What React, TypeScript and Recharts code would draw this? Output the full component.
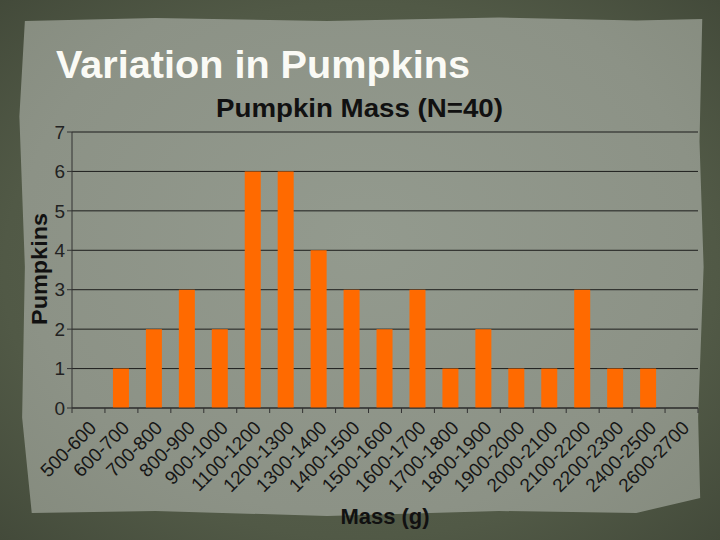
import { BarChart, Bar, XAxis, YAxis, CartesianGrid } from "recharts";

const massBins = [
  "500-600", "600-700", "700-800", "800-900", "900-1000", "1100-1200",
  "1200-1300", "1300-1400", "1400-1500", "1500-1600", "1600-1700", "1700-1800",
  "1800-1900", "1900-2000", "2000-2100", "2100-2200", "2200-2300", "2400-2500",
  "2600-2700",
];
const pumpkinCounts = [0, 1, 2, 3, 2, 6, 6, 4, 3, 2, 3, 1, 2, 1, 1, 3, 1, 1, 0];
const countTicks = [0, 1, 2, 3, 4, 5, 6, 7];

const data = massBins.map((bin, i) => ({ bin, count: pumpkinCounts[i] }));

const W = 720;
const H = 540;
const margin = { top: 132, right: 22, bottom: 0, left: 0 };
const yAxisWidth = 72;
const xAxisHeight = 132;
const plotWidth = W - margin.left - margin.right - yAxisWidth;
const band = plotWidth / massBins.length;

const font = "'Liberation Sans', Arial, sans-serif";

function MassTick(props: any) {
  const { x, y, payload, index } = props;
  const last = index === massBins.length - 1;
  return (
    <g>
      <line x1={x - band / 2} x2={x - band / 2} y1={y - 8} y2={y - 3} stroke="#333" />
      {last && <line x1={x + band / 2} x2={x + band / 2} y1={y - 8} y2={y - 3} stroke="#333" />}
      <text
        x={0}
        y={0}
        transform={`translate(${x + 9},${y + 13}) rotate(-45)`}
        textAnchor="end"
        fontSize={19}
        fontFamily={font}
        fill="#161616"
      >
        {payload.value}
      </text>
    </g>
  );
}

export default function App() {
  return (
    <div
      style={{
        position: "absolute",
        left: 0,
        top: 0,
        width: W,
        height: H,
        overflow: "hidden",
        background: "radial-gradient(ellipse at center, #5f6853 0%, #515946 70%, #434a3a 100%)",
      }}
    >
      <div
        style={{
          position: "absolute",
          left: 18,
          top: 16,
          width: 687,
          height: 502,
          background: "radial-gradient(ellipse at 50% 45%, #939a8e 0%, #8c9286 70%, #858b7e 100%)",
          clipPath:
            "polygon(1% 1%, 20% 0.4%, 45% 1%, 70% 0.3%, 90% 0.9%, 99.6% 0.6%, 99.2% 25%, 99.8% 50%, 99% 80%, 99.3% 96%, 90% 99%, 70% 98.6%, 45% 99.6%, 20% 98.6%, 2% 99%, 0.6% 80%, 1% 50%, 0.2% 20%)",
        }}
      />
      <div style={{ position: "absolute", left: 0, top: 0 }}>
        <BarChart width={W} height={H} data={data} margin={margin}>
          <CartesianGrid vertical={false} stroke="#111" strokeOpacity={0.9} />
          <XAxis
            dataKey="bin"
            height={xAxisHeight}
            interval={0}
            tickLine={false}
            axisLine={{ stroke: "#333" }}
            tick={<MassTick />}
          />
          <YAxis
            width={yAxisWidth}
            domain={[0, 7]}
            ticks={countTicks}
            interval={0}
            axisLine={{ stroke: "#333" }}
            tickLine={{ stroke: "#333" }}
            tickSize={5}
            tickMargin={2}
            tick={{ fontSize: 19, fontFamily: font, fill: "#222" }}
          />
          <Bar dataKey="count" fill="#ff6a00" barSize={16} isAnimationActive={false} />
        </BarChart>
      </div>
      <svg
        width={W}
        height={H}
        style={{ position: "absolute", left: 0, top: 0, pointerEvents: "none" }}
      >
        <text
          x={56}
          y={78}
          fontSize={39}
          fontWeight="bold"
          fontFamily={font}
          fill="#fafaf5"
          textLength={414}
          lengthAdjust="spacingAndGlyphs"
        >
          Variation in Pumpkins
        </text>
        <text
          x={216}
          y={117}
          fontSize={26}
          fontWeight="bold"
          fontFamily={font}
          fill="#111"
          textLength={287}
          lengthAdjust="spacingAndGlyphs"
        >
          Pumpkin Mass (N=40)
        </text>
        <text
          x={385}
          y={524}
          textAnchor="middle"
          fontSize={22}
          fontWeight="bold"
          fontFamily={font}
          fill="#111"
        >
          Mass (g)
        </text>
        <text
          transform="translate(47,269) rotate(-90)"
          textAnchor="middle"
          fontSize={22}
          fontWeight="bold"
          fontFamily={font}
          fill="#111"
          textLength={112}
          lengthAdjust="spacingAndGlyphs"
        >
          Pumpkins
        </text>
      </svg>
    </div>
  );
}
